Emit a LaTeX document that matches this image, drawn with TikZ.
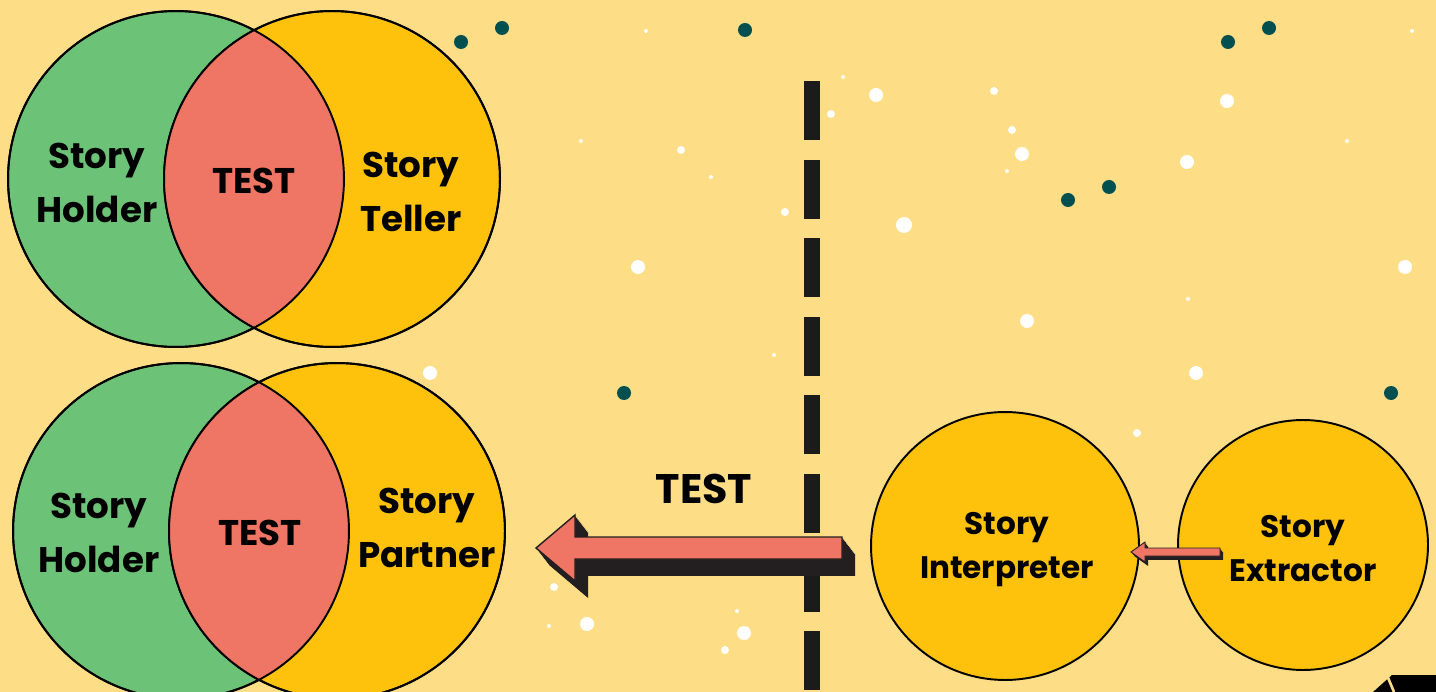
\documentclass[tikz,border=0pt]{standalone}
\usepackage{fontspec}
\setmainfont{Poppins}
\usepackage{tikz}
\usepackage{xcolor}

\definecolor{sand}{HTML}{FEDD87}
\definecolor{holdergreen}{HTML}{6CC276}
\definecolor{tellergold}{HTML}{FEC20C}
\definecolor{lensred}{HTML}{EF7564}
\definecolor{deepteal}{HTML}{01504F}
\definecolor{ink}{HTML}{1B1B1B}
\definecolor{arrowdark}{HTML}{231F20}

% tip, length, head length, head half height, shaft half height
\newcommand{\fatarrow}[5]{(#1) -- ++(#3,-#4) -- ++(0,#4-#5) -- ++(#2-#3,0) -- ++(0,2*#5) -- ++(#3-#2,0) -- ++(0,#4-#5) -- cycle}

\begin{document}
\begin{tikzpicture}[x=0.02cm,y=-0.02cm,
  venn/.style={circle,draw=black,line width=1.1pt,minimum size=6.72cm,inner sep=0pt,outer sep=0pt},
  lbl/.style={align=center,font=\fontsize{20.3}{30.5}\selectfont\bfseries},
  rolelbl/.style={align=center,font=\fontsize{17.7}{25}\selectfont\bfseries}]
\useasboundingbox (0,0) rectangle (1436,692);
\fill[sand] (0,0) rectangle (1436,692);

\foreach \x/\y/\r in {646/31/2,843/77/2,876/95/7,831/114/4,581/141/2,681/150/4,711/177/2,785/212/4,904/225/8,
  994/91/4,1227/101/7,1012/130/4,1022/154/7,1007/171/2,1187/162/7,1347/141/2,1412/31/2,638/267/7,774/355/2,
  1405/267/7,1188/299/2,1027/321/7,1196/373/7,1137/433/4,430/373/7,554/587/4,549/626/2,587/624/7,737/611/2,
  744/633/7,725/650/4}
  \fill[white] (\x,\y) circle [radius=\r];
\foreach \x/\y in {461/42,502/28,745/30,1228/42,1269/28,1068/200,1109/187,624/393,1391/393}
  \fill[deepteal] (\x,\y) circle [radius=7];

\foreach \k in {0,...,7}
  \fill[ink] (804,{81+78.6*\k}) rectangle ++(16,59);

\node[venn,fill=holdergreen] (holderA) at (176,179) {};
\node[venn,fill=tellergold] (tellerA) at (332,179) {};
\begin{scope}
\clip (holderA.center) circle [radius=3.36cm];
\fill[lensred] (tellerA.center) circle [radius=3.36cm];
\end{scope}
\draw[line width=1.1pt] (holderA.center) circle [radius=3.36cm] (tellerA.center) circle [radius=3.36cm];

\node[venn,fill=holdergreen] (holderB) at (181,531) {};
\node[venn,fill=tellergold] (partnerB) at (337,531) {};
\begin{scope}
\clip (holderB.center) circle [radius=3.36cm];
\fill[lensred] (partnerB.center) circle [radius=3.36cm];
\end{scope}
\draw[line width=1.1pt] (holderB.center) circle [radius=3.36cm] (partnerB.center) circle [radius=3.36cm];

\node[lbl] (holderAtext) at (97,183) {Story\\Holder};
\node[lbl] (lensA) at (254,181) {TEST};
\node[lbl] (tellerAtext) at (411,192) {Story\\Teller};
\node[lbl] (holderBtext) at (99,533) {Story\\Holder};
\node[lbl] (lensB) at (260,533) {TEST};
\node[lbl] (partnerBtext) at (427,528) {Story\\Partner};

\node[venn,fill=tellergold,minimum size=5.36cm] (interpreter) at (1005,546) {};
\node[venn,fill=tellergold,minimum size=5cm] (extractor) at (1303,545) {};
\node[rolelbl] (interpretertext) at (1007,550) {Story\\Interpreter};
\node[rolelbl] (extractortext) at (1303,549) {Story\\Extractor};

\foreach \t in {0,...,13}
  \fill[arrowdark,shift={(\t,1.3*\t)}] \fatarrow{536,548}{306}{39}{33}{11};
\filldraw[fill=lensred,draw=arrowdark,line width=0.8pt] \fatarrow{536,548}{306}{39}{33}{11};
\node[font=\fontsize{23.5}{28}\selectfont\bfseries] (arrowlbl) at (704,489) {TEST};

\foreach \t in {0,...,3}
  \fill[arrowdark,shift={(\t,1.3*\t)}] \fatarrow{1131,552}{89}{14}{10}{4};
\filldraw[fill=lensred,draw=arrowdark,line width=0.5pt] \fatarrow{1131,552}{89}{14}{10}{4};

\fill[black] (1373,692) -- (1392,675) -- (1436,675) -- (1436,692) -- cycle;
\draw[sand,line width=1.5pt] (1386,673) -- (1394,692);
\end{tikzpicture}
\end{document}
